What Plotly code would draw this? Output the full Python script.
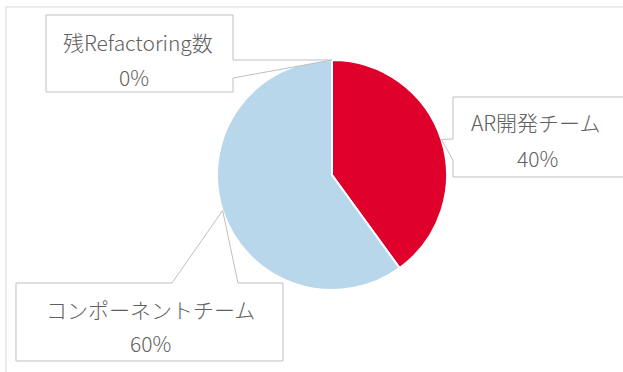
import math
import plotly.graph_objects as go

# ---- data ----
labels = ["AR開発チーム", "コンポーネントチーム", "残Refactoring数"]
values = [40, 60, 0]
colors = ["#DF002C", "#B8D7EA", "#A5A5A5"]

W, H = 623, 372
CX, CY, R = 332, 175, 115  # pie centre / radius in pixels


def px(x):
    return x / W


def py(y):
    return 1 - y / H


fig = go.Figure()
fig.add_trace(go.Pie(
    labels=labels, values=values, sort=False, direction="clockwise", rotation=0,
    marker=dict(colors=colors, line=dict(color="white", width=2)),
    textinfo="none", hoverinfo="none", showlegend=False,
    domain=dict(x=[px(CX - R), px(CX + R)], y=[py(CY + R), py(CY - R)]),
))

total = sum(values)
tips = []
cum = 0
for v in values:
    a = 2 * math.pi * (cum + v / 2) / total
    tips.append((CX + R * math.sin(a), CY - R * math.cos(a)))
    cum += v

# callout boxes (pixel polygons), pointer goes to slice-mid tip
def path(points):
    return "M " + " L ".join(f"{px(x):.5f},{py(y):.5f}" for x, y in points) + " Z"

t_ar, t_comp, t_ref = tips
callouts = [
    [(46, 15), (233, 15), (233, 60), t_ref, (233, 78), (233, 92), (46, 92)],
    [(453, 97), (640, 97), (640, 177), (453, 177), (453, 160), t_ar, (453, 139)],
    [(16, 283), (172, 283), t_comp, (238, 283), (283, 283), (283, 361), (16, 361)],
]
shapes = [
    dict(type="line", xref="paper", yref="paper", x0=px(6), x1=px(640), y0=py(7), y1=py(7),
         line=dict(color="#D9D9D9", width=1), layer="below"),
    dict(type="line", xref="paper", yref="paper", x0=px(6), x1=px(6), y0=py(7), y1=py(380),
         line=dict(color="#D9D9D9", width=1), layer="below"),
]
for pts in callouts:
    shapes.append(dict(type="path", xref="paper", yref="paper", path=path(pts),
                       fillcolor="white", line=dict(color="#BFBFBF", width=1), layer="above"))

pcts = [f"{v / total * 100:.0f}%" for v in values]
label_pos = [((536, 122), (537, 158)), ((150, 309), (150, 343)), ((138, 42), (134, 77))]
annotations = []
font = dict(family="Noto Sans CJK JP", size=21, color="#606060", weight=300)
for lab, pct, ((x1, y1), (x2, y2)) in zip(labels, pcts, label_pos):
    annotations.append(dict(text=lab, x=px(x1), y=py(y1), xref="paper", yref="paper",
                            xanchor="center", yanchor="middle", showarrow=False, font=font))
    annotations.append(dict(text=pct, x=px(x2), y=py(y2), xref="paper", yref="paper",
                            xanchor="center", yanchor="middle", showarrow=False, font=font))

fig.update_layout(
    width=W, height=H, margin=dict(l=0, r=0, t=0, b=0),
    paper_bgcolor="white", plot_bgcolor="white",
    shapes=shapes, annotations=annotations, showlegend=False,
)
fig.write_html("out.html")
